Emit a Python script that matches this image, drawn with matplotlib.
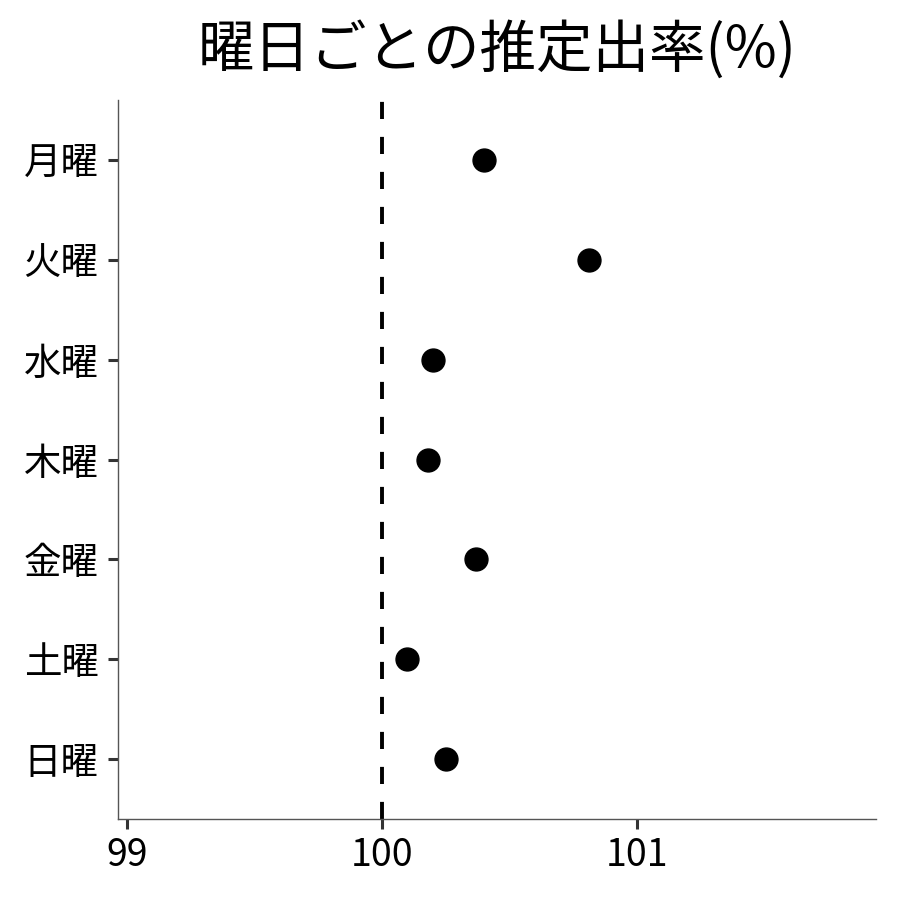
import matplotlib
matplotlib.use("Agg")
import matplotlib.pyplot as plt

plt.rcParams['font.family'] = ['Noto Sans CJK JP', 'DejaVu Sans']

days = ["月曜", "火曜", "水曜", "木曜", "金曜", "土曜", "日曜"]
rates = [100.40, 100.81, 100.20, 100.18, 100.37, 100.10, 100.25]
xticks = [99, 100, 101]
ref_value = 100
title = "曜日ごとの推定出率(%)"

fig = plt.figure(figsize=(9, 9), dpi=100)
ax = fig.add_axes([118/900, 1-819/900, (876-118)/900, (819-100)/900])

n = len(days)
ypos = list(range(n, 0, -1))
ax.plot(rates, ypos, 'o', color='black', markersize=16.5, zorder=3)
ax.axvline(ref_value, color='black', linewidth=2.8, dashes=(4.4, 4.6), zorder=2)

ax.set_xlim(98.965, 101.937)
ax.set_ylim(0.4, n + 0.6)
ax.set_xticks(xticks)
ax.set_xticklabels([str(t) for t in xticks])
ax.set_yticks(ypos)
ax.set_yticklabels(days)

for s in ['top', 'right']:
    ax.spines[s].set_visible(False)
for s in ['left', 'bottom']:
    ax.spines[s].set_color('#555555')
    ax.spines[s].set_linewidth(1.0)
ax.tick_params(axis='both', length=7, width=2.2, color='#333333', labelsize=27, labelcolor='black')
ax.tick_params(axis='y', pad=7)
ax.tick_params(axis='x', pad=5)

fig.text(497/900, 1-50/900, title, ha='center', va='center', fontsize=40.7)

fig.savefig("out.png", dpi=100)
